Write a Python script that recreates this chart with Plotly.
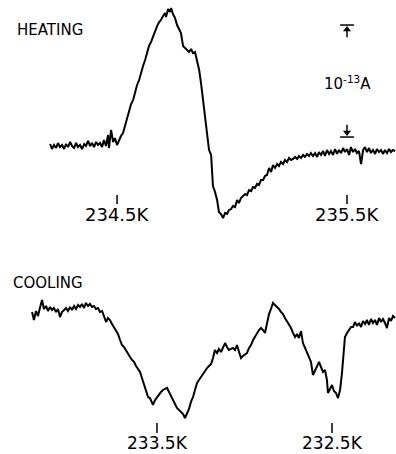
import plotly.graph_objects as go

# ---------------- data ----------------
# Heating trace: temperature (K) and current (units of 1e-13 A, relative to baseline)
heat_T = [234.209, 234.217, 234.226, 234.235, 234.243, 234.252, 234.261, 234.270, 234.278, 234.287,
          234.296, 234.304, 234.313, 234.322, 234.330, 234.339, 234.348, 234.357, 234.365, 234.374,
          234.383, 234.391, 234.400, 234.409, 234.417, 234.426, 234.435, 234.443, 234.452, 234.461,
          234.465, 234.474, 234.483, 234.491, 234.500, 234.509, 234.517, 234.526, 234.535, 234.543,
          234.552, 234.561, 234.570, 234.578, 234.587, 234.596, 234.604, 234.613, 234.622, 234.630,
          234.639, 234.648, 234.657, 234.665, 234.674, 234.683, 234.691, 234.700, 234.709, 234.713,
          234.722, 234.730, 234.735, 234.743, 234.752, 234.761, 234.770, 234.778, 234.787, 234.796,
          234.804, 234.813, 234.822, 234.830, 234.839, 234.848, 234.857, 234.865, 234.874, 234.883,
          234.891, 234.900, 234.909, 234.913, 234.917, 234.926, 234.935, 234.943, 234.952, 234.961,
          234.970, 234.978, 234.987, 234.996, 235.004, 235.013, 235.022, 235.030, 235.039, 235.048,
          235.057, 235.065, 235.074, 235.083, 235.091, 235.100, 235.109, 235.117, 235.126, 235.135,
          235.143, 235.152, 235.161, 235.170, 235.178, 235.187, 235.196, 235.204, 235.213, 235.222,
          235.230, 235.239, 235.248, 235.257, 235.265, 235.274, 235.283, 235.291, 235.300, 235.309,
          235.317, 235.326, 235.335, 235.343, 235.352, 235.361, 235.370, 235.378, 235.387, 235.396,
          235.404, 235.413, 235.422, 235.430, 235.439, 235.448, 235.457, 235.465, 235.474, 235.483,
          235.491, 235.500, 235.509, 235.517, 235.526, 235.535, 235.543, 235.552, 235.561, 235.570,
          235.578, 235.587, 235.596, 235.604, 235.613, 235.622, 235.630, 235.639, 235.648, 235.657,
          235.665, 235.674, 235.683, 235.691, 235.700, 235.709]
heat_I = [0.018, -0.027, 0.009, -0.018, 0.027, -0.009, 0.009, -0.027, 0.018, -0.009,
          0.036, 0.000, -0.018, 0.027, -0.009, 0.009, -0.027, 0.018, 0.000, 0.045,
          0.000, 0.027, -0.009, 0.036, 0.009, 0.027, -0.009, 0.054, 0.000, 0.098,
          -0.018, 0.143, 0.036, 0.071, 0.009, 0.054, 0.089, 0.116, 0.188, 0.232,
          0.321, 0.375, 0.411, 0.482, 0.545, 0.589, 0.661, 0.714, 0.768, 0.821,
          0.893, 0.929, 0.982, 1.018, 1.071, 1.107, 1.125, 1.161, 1.188, 1.152,
          1.223, 1.196, 1.232, 1.179, 1.143, 1.080, 1.036, 1.009, 0.893, 0.875,
          0.857, 0.839, 0.866, 0.830, 0.839, 0.768, 0.679, 0.563, 0.411, 0.277,
          0.116, -0.036, -0.080, -0.214, -0.357, -0.411, -0.482, -0.589, -0.607, -0.643,
          -0.598, -0.607, -0.571, -0.563, -0.536, -0.545, -0.482, -0.509, -0.464, -0.446,
          -0.429, -0.438, -0.393, -0.402, -0.366, -0.375, -0.339, -0.348, -0.304, -0.304,
          -0.268, -0.259, -0.196, -0.232, -0.170, -0.196, -0.161, -0.179, -0.143, -0.161,
          -0.125, -0.143, -0.107, -0.125, -0.116, -0.098, -0.116, -0.089, -0.107, -0.080,
          -0.098, -0.071, -0.089, -0.063, -0.089, -0.063, -0.098, -0.054, -0.080, -0.045,
          -0.089, -0.036, -0.071, -0.045, -0.080, -0.027, -0.071, -0.036, -0.063, -0.018,
          -0.054, -0.027, -0.080, -0.009, -0.054, -0.027, -0.063, -0.045, -0.161, -0.036,
          -0.009, -0.054, -0.018, -0.063, -0.036, -0.071, -0.027, -0.054, -0.036, -0.071,
          -0.036, -0.063, -0.027, -0.054, -0.036, -0.045]

# Cooling trace: temperature (K, decreasing) and current (units of 1e-13 A)
cool_T = [234.214, 234.203, 234.191, 234.180, 234.169, 234.157, 234.146, 234.134, 234.123, 234.111,
          234.100, 234.089, 234.077, 234.066, 234.054, 234.043, 234.031, 234.020, 234.009, 233.997,
          233.986, 233.974, 233.963, 233.951, 233.940, 233.929, 233.917, 233.906, 233.894, 233.883,
          233.871, 233.860, 233.849, 233.837, 233.826, 233.814, 233.803, 233.791, 233.780, 233.769,
          233.757, 233.746, 233.734, 233.723, 233.711, 233.700, 233.689, 233.677, 233.666, 233.654,
          233.643, 233.631, 233.620, 233.609, 233.597, 233.586, 233.574, 233.563, 233.551, 233.540,
          233.529, 233.523, 233.511, 233.500, 233.489, 233.477, 233.466, 233.454, 233.443, 233.431,
          233.420, 233.409, 233.397, 233.386, 233.374, 233.363, 233.351, 233.340, 233.329, 233.317,
          233.306, 233.294, 233.283, 233.271, 233.260, 233.249, 233.237, 233.226, 233.214, 233.203,
          233.191, 233.180, 233.169, 233.157, 233.146, 233.134, 233.123, 233.111, 233.100, 233.089,
          233.077, 233.066, 233.054, 233.043, 233.031, 233.020, 233.009, 232.997, 232.986, 232.974,
          232.963, 232.951, 232.940, 232.929, 232.917, 232.906, 232.894, 232.883, 232.871, 232.860,
          232.849, 232.837, 232.826, 232.814, 232.803, 232.791, 232.780, 232.769, 232.757, 232.746,
          232.734, 232.723, 232.711, 232.700, 232.689, 232.677, 232.666, 232.654, 232.643, 232.631,
          232.620, 232.609, 232.597, 232.586, 232.574, 232.563, 232.551, 232.540, 232.529, 232.523,
          232.511, 232.500, 232.489, 232.477, 232.466, 232.454, 232.443, 232.431, 232.426, 232.414,
          232.403, 232.391, 232.380, 232.369, 232.357, 232.346, 232.334, 232.323, 232.311, 232.300,
          232.289, 232.277, 232.266, 232.254, 232.243, 232.231, 232.220, 232.209, 232.197, 232.186,
          232.174, 232.163, 232.151, 232.140]
cool_I = [-0.018, -0.089, -0.009, -0.054, 0.018, 0.089, 0.009, 0.036, -0.009, 0.027,
          0.000, 0.018, -0.018, 0.009, -0.063, -0.018, 0.000, 0.018, -0.009, 0.027,
          0.000, 0.036, 0.009, 0.045, 0.027, 0.054, 0.018, 0.063, 0.036, 0.054,
          0.027, 0.036, 0.009, 0.018, -0.018, -0.009, -0.054, -0.107, -0.071, -0.089,
          -0.125, -0.152, -0.179, -0.214, -0.268, -0.313, -0.330, -0.357, -0.393, -0.420,
          -0.446, -0.464, -0.500, -0.527, -0.554, -0.607, -0.661, -0.714, -0.777, -0.786,
          -0.830, -0.848, -0.804, -0.777, -0.750, -0.732, -0.714, -0.705, -0.696, -0.732,
          -0.768, -0.804, -0.839, -0.875, -0.893, -0.911, -0.929, -0.964, -0.920, -0.884,
          -0.821, -0.777, -0.714, -0.652, -0.625, -0.598, -0.563, -0.536, -0.518, -0.500,
          -0.482, -0.429, -0.357, -0.384, -0.348, -0.375, -0.330, -0.295, -0.330, -0.357,
          -0.348, -0.339, -0.357, -0.313, -0.375, -0.429, -0.411, -0.393, -0.384, -0.339,
          -0.313, -0.268, -0.241, -0.205, -0.179, -0.161, -0.179, -0.205, -0.107, -0.036,
          0.009, 0.063, 0.045, 0.027, 0.009, -0.018, -0.036, -0.071, -0.098, -0.134,
          -0.161, -0.205, -0.241, -0.214, -0.250, -0.188, -0.295, -0.339, -0.375, -0.420,
          -0.464, -0.580, -0.536, -0.500, -0.464, -0.509, -0.554, -0.536, -0.625, -0.741,
          -0.696, -0.670, -0.723, -0.741, -0.786, -0.714, -0.563, -0.375, -0.241, -0.205,
          -0.179, -0.152, -0.152, -0.107, -0.143, -0.116, -0.152, -0.098, -0.125, -0.089,
          -0.134, -0.080, -0.116, -0.089, -0.134, -0.071, -0.107, -0.080, -0.116, -0.161,
          -0.071, -0.098, -0.054, -0.071]

heat_ticks = [234.5, 235.5]
heat_ticktext = ["234.5K", "235.5K"]
cool_ticks = [233.5, 232.5]
cool_ticktext = ["233.5K", "232.5K"]

scale_T = 235.5          # position of the current scale bar (heating panel)
scale_low, scale_high = 0.08, 1.08   # 1 unit = 10^-13 A

FONT = "DejaVu Sans"

fig = go.Figure()
fig.add_trace(go.Scatter(x=heat_T, y=heat_I, mode="lines", xaxis="x", yaxis="y",
                         line=dict(color="black", width=2), showlegend=False, hoverinfo="skip"))
fig.add_trace(go.Scatter(x=cool_T, y=cool_I, mode="lines", xaxis="x2", yaxis="y2",
                         line=dict(color="black", width=2), showlegend=False, hoverinfo="skip"))

# scale bar arrowheads (pointing at the bars)
fig.add_trace(go.Scatter(x=[scale_T, scale_T], y=[scale_high - 0.04, scale_low + 0.04],
                         mode="markers", xaxis="x", yaxis="y",
                         marker=dict(symbol=["triangle-up", "triangle-down"], size=7, color="black"),
                         showlegend=False, hoverinfo="skip"))

annotations = []
shapes = []

# tick marks and labels
for t, lab in zip(heat_ticks, heat_ticktext):
    shapes.append(dict(type="line", xref="x", yref="paper", x0=t, x1=t,
                       y0=0.5507, y1=0.5705, line=dict(color="black", width=1.5)))
    annotations.append(dict(x=t, y=0.5286, xref="x", yref="paper", text=lab, showarrow=False,
                            xanchor="center", yanchor="middle",
                            font=dict(family=FONT, size=18, color="black")))
for t, lab in zip(cool_ticks, cool_ticktext):
    shapes.append(dict(type="line", xref="x2", yref="paper", x0=t, x1=t,
                       y0=0.0463, y1=0.0683, line=dict(color="black", width=1.5)))
    annotations.append(dict(x=t, y=0.0242, xref="x2", yref="paper", text=lab, showarrow=False,
                            xanchor="center", yanchor="middle",
                            font=dict(family=FONT, size=17, color="black")))

# panel titles
annotations.append(dict(x=0.126, y=0.934, xref="paper", yref="paper", text="HEATING",
                        showarrow=False, xanchor="center", yanchor="middle",
                        font=dict(family=FONT, size=15, color="black")))
annotations.append(dict(x=0.1212, y=0.3767, xref="paper", yref="paper", text="COOLING",
                        showarrow=False, xanchor="center", yanchor="middle",
                        font=dict(family=FONT, size=15, color="black")))

# current scale bar: bars + stems
for yv in (scale_low, scale_high):
    shapes.append(dict(type="line", xref="x", yref="y", x0=scale_T - 0.03, x1=scale_T + 0.03,
                       y0=yv, y1=yv, line=dict(color="black", width=1.5)))
shapes.append(dict(type="line", xref="x", yref="y", x0=scale_T, x1=scale_T,
                   y0=scale_high - 0.11, y1=scale_high - 0.04, line=dict(color="black", width=1.5)))
shapes.append(dict(type="line", xref="x", yref="y", x0=scale_T, x1=scale_T,
                   y0=scale_low + 0.04, y1=scale_low + 0.11, line=dict(color="black", width=1.5)))
annotations.append(dict(x=scale_T, y=0.8172, xref="x", yref="paper",
                        text="10<sup>-13</sup>A", showarrow=False,
                        xanchor="center", yanchor="middle",
                        font=dict(family=FONT, size=15, color="black")))

fig.update_layout(
    width=396, height=454,
    margin=dict(l=0, r=0, t=0, b=0),
    paper_bgcolor="white", plot_bgcolor="white",
    xaxis=dict(domain=[0, 1], range=[233.991, 235.713], visible=False, fixedrange=True),
    yaxis=dict(domain=[0.49339, 1], range=[-0.75, 1.3036], visible=False, fixedrange=True),
    xaxis2=dict(domain=[0, 1], range=[234.3971, 232.1343], visible=False, anchor="y2"),
    yaxis2=dict(domain=[0, 0.47137], range=[-1.2857, 0.625], visible=False, anchor="x2"),
    annotations=annotations,
    shapes=shapes,
    showlegend=False,
)

fig.write_html(
    "out.html",
    config={"displayModeBar": False},
    post_script="document.body.style.margin='0';document.body.style.padding='0';"
                "document.body.style.overflow='hidden';",
)
